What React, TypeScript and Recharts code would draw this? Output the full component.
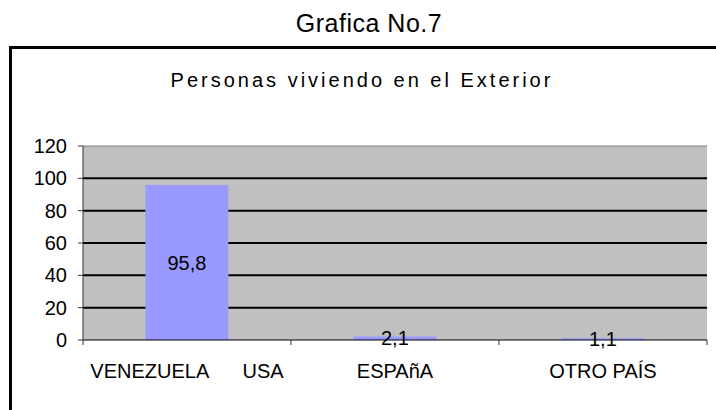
import React from 'react'
import { BarChart, Bar, XAxis, YAxis, CartesianGrid, ReferenceLine, LabelList } from 'recharts'

const categories = ['VENEZUELA\u00a0\u00a0\u00a0\u00a0\u00a0\u00a0USA', 'ESPAñA', 'OTRO PAÍS']
const values = [95.8, 2.1, 1.1]
const yTicks = [0, 20, 40, 60, 80, 100, 120]
const gridValues = [20, 40, 60, 80, 100]

const data = categories.map((name, i) => ({ name, value: values[i] }))

const FONT = '"Liberation Sans", Arial, sans-serif'

function CategoryTick(props: any) {
  const { x, y, payload, index, visibleTicksCount, width } = props
  const half = (width || 624) / visibleTicksCount / 2
  const last = index === visibleTicksCount - 1
  return (
    <g>
      <line x1={x - half} x2={x - half} y1={y} y2={y + 5} stroke="#333" />
      {last && <line x1={x + half} x2={x + half} y1={y} y2={y + 5} stroke="#333" />}
      <text x={x} y={y + 38} textAnchor="middle" fontSize={20} fontFamily={FONT} fill="#000">
        {payload.value}
      </text>
    </g>
  )
}

export default function App() {
  return (
    <div style={{ position: 'absolute', left: 0, top: 0, width: 716, height: 410, overflow: 'hidden', background: '#fff', fontFamily: FONT }}>
      <div style={{ position: 'absolute', left: 0, top: 11, width: 738, textAlign: 'center', fontSize: 25, lineHeight: '25px', color: '#000', letterSpacing: 0.5 }}>
        Grafica No.7
      </div>

      {/* chart frame, runs off the page like the original */}
      <div style={{ position: 'absolute', left: 9, top: 46, width: 800, height: 500, border: '3px solid #000', boxSizing: 'border-box' }} />

      <div style={{ position: 'absolute', left: 0, top: 70, width: 724, textAlign: 'center', fontSize: 20, lineHeight: '20px', color: '#000', letterSpacing: 3 }}>
        Personas viviendo en el Exterior
      </div>

      <div style={{ position: 'absolute', left: 0, top: 0 }}>
        <BarChart
          width={716}
          height={410}
          data={data}
          margin={{ top: 146, right: 9, left: 23, bottom: 40 }}
          barCategoryGap="30%"
        >
          <CartesianGrid
            yAxisId="left"
            fill="#C0C0C0"
            vertical={false}
            horizontalValues={gridValues}
            stroke="#000"
            strokeWidth={2}
          />
          <XAxis
            dataKey="name"
            height={30}
            tickSize={0}
            tickMargin={0}
            tickLine={false}
            axisLine={{ stroke: '#000' }}
            interval={0}
            tick={<CategoryTick />}
          />
          <YAxis
            yAxisId="left"
            width={60}
            domain={[0, 120]}
            ticks={yTicks}
            interval={0}
            tickSize={5}
            tickMargin={11}
            axisLine={{ stroke: '#333' }}
            tickLine={{ stroke: '#333' }}
            tick={{ fontSize: 20, fontFamily: FONT, fill: '#000' }}
          />
          <YAxis
            yAxisId="right"
            orientation="right"
            width={0}
            domain={[0, 120]}
            tick={false}
            tickLine={false}
            axisLine={{ stroke: '#808080' }}
          />
          <ReferenceLine yAxisId="left" y={120} stroke="#808080" />
          <Bar yAxisId="left" dataKey="value" fill="#9999FF" isAnimationActive={false}>
            <LabelList
              dataKey="value"
              position="center"
              formatter={(v: any) => String(v).replace('.', ',')}
              style={{ fontSize: 20, fontFamily: FONT, fill: '#000' }}
            />
          </Bar>
        </BarChart>
      </div>
    </div>
  )
}
